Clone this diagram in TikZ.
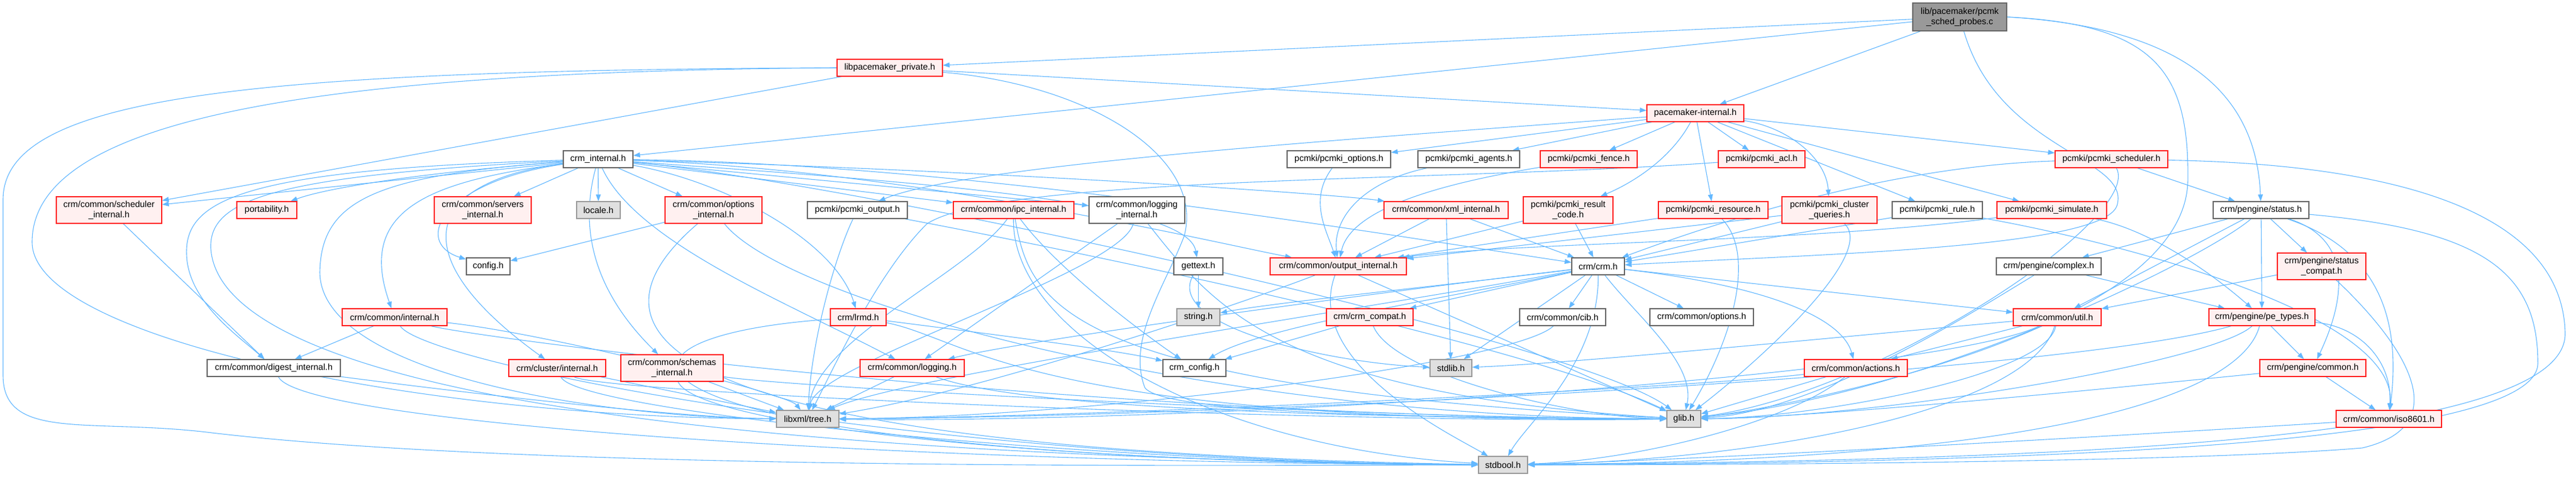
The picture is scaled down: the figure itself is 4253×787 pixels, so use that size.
\documentclass[tikz,border=0pt]{standalone}
\usepackage{fontspec}
\setmainfont{Liberation Sans}
\usetikzlibrary{arrows.meta}
\pgfdeclarelayer{background}
\pgfdeclarelayer{bottom}
\pgfsetlayers{bottom,background,main}
\definecolor{edgec}{HTML}{63B8FF}
\definecolor{redfill}{HTML}{FFF0F0}
\definecolor{grayfill}{HTML}{E0E0E0}
\definecolor{rootfill}{HTML}{999999}
\definecolor{wborder}{HTML}{666666}
\definecolor{gborder}{HTML}{999999}
\definecolor{rborder}{HTML}{FF2020}
\tikzset{
  nd/.style={rectangle, inner sep=0pt, line width=1.3pt, minimum height=28pt, align=center,
    font=\fontsize{14.5}{16.7}\selectfont},
  tall/.style={minimum height=44pt},
  wb/.style={nd, draw=wborder, fill=white},
  rb/.style={nd, draw=rborder, fill=redfill},
  gb/.style={nd, draw=gborder, fill=grayfill},
  rootb/.style={nd, draw=wborder, fill=rootfill, minimum height=46pt},
  e/.style={draw=edgec, line width=1.1pt, -{Triangle[length=11pt,width=8pt]}},
}
\begin{document}
\begin{tikzpicture}[x=1pt,y=-1pt]
\begin{pgfonlayer}{bottom}
\fill[white] (0,0) rectangle (4253,787);
\end{pgfonlayer}
\useasboundingbox (0,0) rectangle (4253,787);
% ---------- nodes
\node[rootb, minimum width=155pt] (root) at (3235.5,28) {lib/pacemaker/pcmk\\\_sched\_probes.c};
\node[wb, minimum width=115pt] (cint) at (987.5,263) {crm\_internal.h};
\node[rb, minimum width=174pt] (lpriv) at (1469,112) {libpacemaker\_private.h};
\node[rb, minimum width=160pt] (pint) at (2799,187) {pacemaker-internal.h};
\node[rb, tall, minimum width=174pt] (schedi) at (180,347) {crm/common/scheduler\\\_internal.h};
\node[rb, minimum width=99pt] (port) at (440.5,347) {portability.h};
\node[rb, tall, minimum width=160pt] (servi) at (797,347) {crm/common/servers\\\_internal.h};
\node[gb, minimum width=72pt] (loc) at (988,347) {locale.h};
\node[rb, tall, minimum width=160pt] (opti) at (1178,347) {crm/common/options\\\_internal.h};
\node[wb, minimum width=165pt] (pout) at (1415.5,347) {pcmki/pcmki\_output.h};
\node[rb, minimum width=199pt] (ipci) at (1673.5,347) {crm/common/ipc\_internal.h};
\node[wb, tall, minimum width=158pt] (logi) at (1877,347) {crm/common/logging\\\_internal.h};
\node[wb, minimum width=171pt] (popt) at (2210.5,263) {pcmki/pcmki\_options.h};
\node[wb, minimum width=168pt] (pag) at (2425,263) {pcmki/pcmki\_agents.h};
\node[rb, minimum width=160pt] (pfen) at (2623,263) {pcmki/pcmki\_fence.h};
\node[rb, minimum width=143pt] (pacl) at (2908.5,263) {pcmki/pcmki\_acl.h};
\node[rb, minimum width=186pt] (psch) at (3486,263) {pcmki/pcmki\_scheduler.h};
\node[rb, minimum width=205pt] (xmli) at (2387.5,347) {crm/common/xml\_internal.h};
\node[rb, tall, minimum width=148pt] (prc) at (2589,347) {pcmki/pcmki\_result\\\_code.h};
\node[rb, minimum width=181pt] (pres) at (2828.5,347) {pcmki/pcmki\_resource.h};
\node[rb, tall, minimum width=157pt] (pcq) at (3020.5,347) {pcmki/pcmki\_cluster\\\_queries.h};
\node[wb, minimum width=149pt] (prule) at (3198.5,347) {pcmki/pcmki\_rule.h};
\node[rb, minimum width=181pt] (psim) at (3387.5,347) {pcmki/pcmki\_simulate.h};
\node[wb, minimum width=158pt] (stat) at (3733,347) {crm/pengine/status.h};
\node[wb, minimum width=72pt] (conf) at (806,440) {config.h};
\node[wb, minimum width=81pt] (gett) at (1978.5,440) {gettext.h};
\node[rb, minimum width=225pt] (outi) at (2209.5,440) {crm/common/output\_internal.h};
\node[wb, minimum width=87pt] (crm) at (2638.5,440) {crm/crm.h};
\node[wb, minimum width=173pt] (cplx) at (3382.5,440) {crm/pengine/complex.h};
\node[rb, tall, minimum width=146pt] (statc) at (3833,440) {crm/pengine/status\\\_compat.h};
\node[rb, minimum width=173pt] (cmi) at (651.5,524) {crm/common/internal.h};
\node[rb, minimum width=92pt] (lrmd) at (1417,524) {crm/lrmd.h};
\node[gb, minimum width=71pt] (str) at (1978.5,524) {string.h};
\node[rb, minimum width=143pt] (compat) at (2261.5,524) {crm/crm\_compat.h};
\node[wb, minimum width=142pt] (cib) at (2580,524) {crm/common/cib.h};
\node[wb, minimum width=171pt] (opth) at (2809.5,524) {crm/common/options.h};
\node[rb, minimum width=145pt] (util) at (3396.5,524) {crm/common/util.h};
\node[rb, minimum width=175pt] (pet) at (3734.5,524) {crm/pengine/pe\_types.h};
\node[wb, minimum width=220pt] (dig) at (452,608) {crm/common/digest\_internal.h};
\node[rb, minimum width=160pt] (clui) at (920,608) {crm/cluster/internal.h};
\node[rb, tall, minimum width=169pt] (schi) at (1109.5,608) {crm/common/schemas\\\_internal.h};
\node[rb, minimum width=172pt] (logh) at (1506,608) {crm/common/logging.h};
\node[wb, minimum width=104pt] (cconf) at (1972,608) {crm\_config.h};
\node[gb, minimum width=69pt] (stdl) at (2395.5,608) {stdlib.h};
\node[rb, minimum width=170pt] (act) at (3064,608) {crm/common/actions.h};
\node[rb, minimum width=175pt] (pec) at (3818.5,608) {crm/pengine/common.h};
\node[gb, minimum width=103pt] (xml) at (1333.5,692) {libxml/tree.h};
\node[gb, minimum width=56pt] (glib) at (2780,692) {glib.h};
\node[rb, minimum width=174pt] (iso) at (3944,692) {crm/common/iso8601.h};
\node[gb, minimum width=81pt] (sbool) at (2481.5,768) {stdbool.h};
% ---------- edges
\begin{pgfonlayer}{background}
% root
\draw[e] (root) -- (cint);
\draw[e] (root) -- (lpriv);
\draw[e] (root) -- (pint);
\draw[e] (root.east) .. controls (3600,45) and (3725,150) .. (stat);
\draw[e] (root) .. controls (3300,250) and (3520,260) .. (3495,340) .. controls (3470,410) and (3000,420) .. (crm);
\draw[e] (root.east) .. controls (3560,40) and (3615,120) .. (3612,300) .. controls (3605,560) and (2900,680) .. (glib);
% libpacemaker_private
\draw[e] (lpriv) -- (pint);
\draw[e] (lpriv) -- (schedi);
\draw[e] (lpriv.west) .. controls (400,116) and (5,160) .. (5,330) -- (5,620) .. controls (5,730) and (150,690) .. (350,715) .. controls (900,780) and (2100,768) .. (sbool);
\draw[e] (lpriv.west) .. controls (500,118) and (53,200) .. (53,400) .. controls (53,560) and (700,690) .. (xml);
\draw[e] (lpriv) .. controls (1800,140) and (1990,260) .. (1955,390) .. controls (1925,470) and (1860,560) .. (1890,640) .. controls (1920,690) and (2500,690) .. (glib);
% pacemaker-internal
\draw[e] (pint) -- (popt);
\draw[e] (pint) -- (pag);
\draw[e] (pint) -- (pfen);
\draw[e] (pint) -- (pacl);
\draw[e] (pint) .. controls (2760,260) and (2700,300) .. (prc);
\draw[e] (pint) -- (pres);
\draw[e] (pint) .. controls (2950,210) and (3015,260) .. (pcq);
\draw[e] (pint) -- (prule);
\draw[e] (pint) -- (psim);
\draw[e] (pint) -- (psch);
\draw[e] (pint) .. controls (2300,225) and (1600,270) .. (pout);
% pcmki_*
\draw[e] (pout) .. controls (1380,420) and (1340,560) .. (xml);
\draw[e] (pout) .. controls (1700,400) and (2500,560) .. (glib);
\draw[e] (popt) .. controls (2160,330) and (2190,380) .. (outi);
\draw[e] (pag) .. controls (2250,300) and (2200,360) .. (outi);
\draw[e] (pfen) .. controls (2400,300) and (2230,340) .. (outi);
\draw[e] (pacl) .. controls (2400,300) and (1650,290) .. (1530,370) .. controls (1450,450) and (1380,600) .. (xml);
\draw[e] (prc) -- (outi);
\draw[e] (prc) -- (crm);
\draw[e] (pres) -- (outi);
\draw[e] (pres) .. controls (2900,420) and (2860,560) .. (glib);
\draw[e] (pcq) -- (outi);
\draw[e] (pcq) -- (crm);
\draw[e] (pcq) .. controls (3100,420) and (2900,600) .. (glib);
\draw[e] (prule) -- (crm);
\draw[e] (prule) .. controls (3500,400) and (3960,520) .. (iso);
\draw[e] (psim) .. controls (3000,400) and (2500,400) .. (outi);
\draw[e] (psim) .. controls (3550,380) and (3650,450) .. (pet);
\draw[e] (psch) -- (stat);
\draw[e] (psch) .. controls (3100,275) and (2800,380) .. (crm);
\draw[e] (psch) .. controls (3540,360) and (3100,650) .. (glib);
\draw[e] (psch) .. controls (3900,270) and (4230,330) .. (4235,550) .. controls (4240,740) and (3300,760) .. (sbool);
% pengine
\draw[e] (stat) -- (cplx);
\draw[e] (stat) -- (util);
\draw[e] (stat) -- (pet);
\draw[e] (stat) -- (statc);
\draw[e] (stat) .. controls (3900,400) and (3860,520) .. (pec);
\draw[e] (stat) .. controls (3950,420) and (3960,560) .. (iso);
\draw[e] (stat) .. controls (3650,420) and (3200,650) .. (glib);
\draw[e] (stat) .. controls (4100,380) and (4190,450) .. (4190,600) .. controls (4190,740) and (3300,765) .. (sbool);
\draw[e] (cplx) -- (pet);
\draw[e] (cplx) .. controls (3250,520) and (3000,680) .. (glib);
\draw[e] (statc) -- (util);
\draw[e] (statc) .. controls (3950,550) and (4070,700) .. (3900,740) .. controls (3600,765) and (2800,768) .. (sbool);
\draw[e] (pet) -- (pec);
\draw[e] (pet) .. controls (3900,540) and (3950,600) .. (iso);
\draw[e] (pet) .. controls (3650,600) and (3100,690) .. (glib);
\draw[e] (pet) .. controls (3400,620) and (2000,690) .. (xml);
\draw[e] (pet) .. controls (3700,650) and (3400,760) .. (sbool);
\draw[e] (pec) .. controls (3500,640) and (3000,690) .. (glib);
\draw[e] (pec) -- (iso);
\draw[e] (iso) .. controls (3500,720) and (2800,760) .. (sbool);
% util, actions
\draw[e] (util) .. controls (3000,560) and (2600,600) .. (stdl);
\draw[e] (util) -- (act);
\draw[e] (util) .. controls (3200,620) and (2000,700) .. (xml);
\draw[e] (util) .. controls (3380,620) and (3000,690) .. (glib);
\draw[e] (util) .. controls (3350,680) and (2900,760) .. (sbool);
\draw[e] (act) .. controls (2800,640) and (1800,690) .. (xml);
\draw[e] (act) -- (glib);
\draw[e] (act) .. controls (2950,700) and (2700,760) .. (sbool);
% crm.h
\draw[e] (crm) -- (compat);
\draw[e] (crm) -- (cib);
\draw[e] (crm) -- (opth);
\draw[e] (crm) -- (stdl);
\draw[e] (crm) .. controls (2700,520) and (2800,600) .. (glib);
\draw[e] (crm) .. controls (2900,470) and (3040,520) .. (act);
\draw[e] (crm) -- (util);
\draw[e] (crm) .. controls (2400,470) and (2100,500) .. (str);
\draw[e] (crm) .. controls (2400,490) and (2080,540) .. (cconf);
\draw[e] (crm) .. controls (2300,480) and (1700,560) .. (logh);
\draw[e] (crm) .. controls (2200,520) and (1500,620) .. (xml);
\draw[e] (crm) .. controls (2640,600) and (2520,700) .. (sbool);
\draw[e] (compat) -- (cconf);
\draw[e] (compat) .. controls (2300,620) and (2600,690) .. (glib);
\draw[e] (cib) .. controls (2500,600) and (1800,690) .. (xml);
% output_internal, xml_internal, gettext
\draw[e] (outi) .. controls (2150,600) and (2400,720) .. (sbool);
\draw[e] (outi) -- (glib);
\draw[e] (outi) .. controls (2000,520) and (1600,650) .. (xml);
\draw[e] (xmli) -- (outi);
\draw[e] (xmli) -- (stdl);
\draw[e] (xmli) -- (crm);
\draw[e] (gett) -- (str);
\draw[e] (gett) .. controls (1920,540) and (2200,600) .. (stdl);
% lrmd, logging
\draw[e] (lrmd) .. controls (900,560) and (1000,760) .. (sbool);
\draw[e] (lrmd) .. controls (1700,560) and (1850,580) .. (cconf);
\draw[e] (lrmd) .. controls (1600,560) and (1700,700) .. (glib);
\draw[e] (logh) -- (xml);
\draw[e] (logh) .. controls (1700,680) and (2300,690) .. (glib);
\draw[e] (logi) -- (logh);
\draw[e] (logi) .. controls (1850,450) and (1350,600) .. (xml);
\draw[e] (logi) .. controls (2000,500) and (2100,650) .. (glib);
% ipc, options
\draw[e] (ipci) .. controls (1600,450) and (1350,560) .. (xml);
\draw[e] (ipci) .. controls (1700,500) and (1750,640) .. (glib);
\draw[e] (ipci) .. controls (1750,450) and (1900,560) .. (cconf);
\draw[e] (ipci) .. controls (1670,550) and (2000,740) .. (sbool);
\draw[e] (opti) -- (conf);
\draw[e] (opti) .. controls (1300,500) and (2000,690) .. (glib);
\draw[e] (opti) .. controls (1000,500) and (900,740) .. (sbool);
% common internal, digest, cluster, schemas
\draw[e] (cmi) -- (dig);
\draw[e] (cmi) .. controls (900,550) and (1300,650) .. (xml);
\draw[e] (cmi) .. controls (800,560) and (1800,690) .. (glib);
\draw[e] (cmi) .. controls (700,600) and (1500,760) .. (sbool);
\draw[e] (dig) .. controls (700,640) and (1100,690) .. (xml);
\draw[e] (dig) .. controls (500,700) and (1500,765) .. (sbool);
\draw[e] (schedi) -- (dig);
\draw[e] (clui) .. controls (1000,650) and (2200,700) .. (glib);
\draw[e] (clui) .. controls (950,680) and (1800,765) .. (sbool);
\draw[e] (clui) -- (xml);
\draw[e] (schi) -- (xml);
\draw[e] (schi) .. controls (1300,640) and (2300,692) .. (glib);
\draw[e] (schi) .. controls (1150,700) and (1700,765) .. (sbool);
% crm_internal
\draw[e] (cint) -- (schedi);
\draw[e] (cint) .. controls (700,285) and (540,310) .. (port);
\draw[e] (cint) -- (servi);
\draw[e] (cint) -- (loc);
\draw[e] (cint) .. controls (400,280) and (305,330) .. (308,420) .. controls (310,500) and (400,560) .. (dig);
\draw[e] (cint) .. controls (450,290) and (345,330) .. (348,410) .. controls (360,600) and (900,750) .. (sbool);
\draw[e] (cint) .. controls (620,290) and (530,330) .. (528,450) .. controls (530,620) and (1000,690) .. (xml);
\draw[e] (cint) .. controls (700,300) and (590,350) .. (cmi);
\draw[e] (cint) .. controls (730,300) and (680,400) .. (conf);
\draw[e] (cint) .. controls (700,300) and (660,420) .. (clui);
\draw[e] (cint) .. controls (950,400) and (1000,500) .. (schi);
\draw[e] (cint) .. controls (1050,400) and (1300,500) .. (logh);
\draw[e] (cint) -- (opti);
\draw[e] (cint) .. controls (1200,300) and (1380,400) .. (lrmd);
\draw[e] (cint) -- (ipci);
\draw[e] (cint) -- (logi);
\draw[e] (cint) .. controls (1500,300) and (1960,330) .. (gett);
\draw[e] (cint) .. controls (1500,280) and (2000,400) .. (outi);
\draw[e] (cint) .. controls (1600,280) and (2200,320) .. (xmli);
\draw[e] (cint) .. controls (1600,270) and (2300,390) .. (crm);
\draw[e] (cint) .. controls (1400,300) and (2600,560) .. (glib);
\end{pgfonlayer}
\end{tikzpicture}
\end{document}
